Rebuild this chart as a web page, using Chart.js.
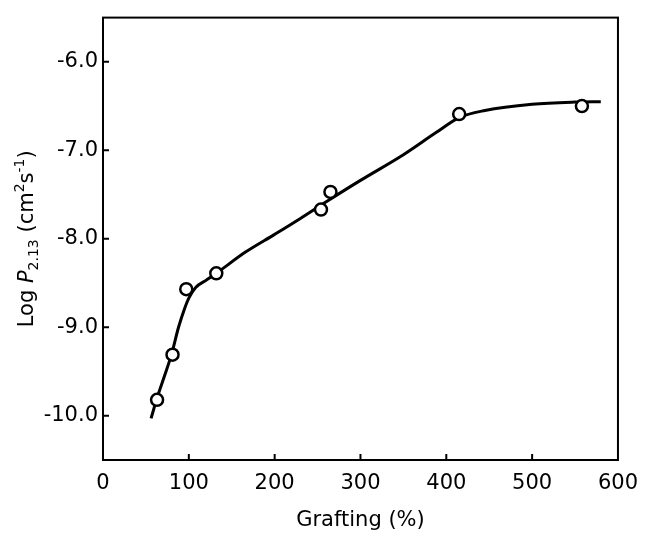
<!DOCTYPE html>
<html>
<head>
<meta charset="utf-8">
<title>Log P vs Grafting</title>
<script src="https://cdn.jsdelivr.net/npm/chart.js@4.4.0/dist/chart.umd.min.js"></script>
<style>
  html, body { margin: 0; padding: 0; background: #fff; }
</style>
</head>
<body>
<canvas id="grafting" width="649" height="538"></canvas>
<script>
// measured points
var graftX = [63, 81, 97, 132, 254, 265, 415, 558];
var logP = [-9.82, -9.31, -8.57, -8.39, -7.67, -7.47, -6.59, -6.50];

// hand-drawn trend curve through the points
var curveX = [56, 63, 72, 80, 88, 95, 100, 108, 120, 132, 166, 200, 230, 262, 300, 350, 388, 415, 445, 500, 550, 580];
var curveY = [-10.03, -9.80, -9.54, -9.30, -9.00, -8.79, -8.67, -8.55, -8.47, -8.39, -8.15, -7.95, -7.77, -7.57, -7.34, -7.05, -6.80, -6.63, -6.55, -6.48, -6.455, -6.45];

var ticksX = [0, 100, 200, 300, 400, 500, 600];
var ticksY = [-10, -9, -8, -7, -6];

var FONT = 'DejaVu Sans';

function toXY(xs, ys) {
    return xs.map(function (x, i) { return { x: x, y: ys[i] }; });
}

// box frame, inward tick marks and the rotated y title with sub/superscripts
var frame = {
    id: 'frame',
    afterDraw: function (chart) {
        var ctx = chart.ctx, a = chart.chartArea;
        var sx = chart.scales.x, sy = chart.scales.y;
        ctx.save();
        ctx.strokeStyle = '#000';
        ctx.lineWidth = 2;
        ctx.strokeRect(a.left, a.top, a.right - a.left, a.bottom - a.top);
        ctx.beginPath();
        ticksX.slice(1, -1).forEach(function (v) {
            var p = sx.getPixelForValue(v);
            ctx.moveTo(p, a.bottom);
            ctx.lineTo(p, a.bottom - 6);
        });
        ticksY.forEach(function (v) {
            var p = sy.getPixelForValue(v);
            ctx.moveTo(a.left, p);
            ctx.lineTo(a.left + 6, p);
        });
        ctx.stroke();

        var runs = [
            { t: 'Log ', f: '21px ' + FONT, dy: 0 },
            { t: 'P', f: 'italic 21px ' + FONT, dy: 0 },
            { t: '2.13', f: '14px ' + FONT, dy: 5 },
            { t: ' (cm', f: '21px ' + FONT, dy: 0 },
            { t: '2', f: '14px ' + FONT, dy: -9 },
            { t: 's', f: '21px ' + FONT, dy: 0 },
            { t: '-1', f: '14px ' + FONT, dy: -9 },
            { t: ')', f: '21px ' + FONT, dy: 0 }
        ];
        var total = 0;
        runs.forEach(function (r) { ctx.font = r.f; r.w = ctx.measureText(r.t).width; total += r.w; });
        ctx.translate(33, (a.top + a.bottom) / 2);
        ctx.rotate(-Math.PI / 2);
        ctx.fillStyle = '#000';
        ctx.textBaseline = 'alphabetic';
        ctx.textAlign = 'left';
        var x = -total / 2;
        runs.forEach(function (r) {
            ctx.font = r.f;
            ctx.fillText(r.t, x, r.dy);
            x += r.w;
        });
        ctx.restore();
    }
};

var chart = new Chart(document.getElementById('grafting'), {
    type: 'scatter',
    data: {
        datasets: [{
            data: toXY(graftX, logP),
            pointRadius: 6,
            pointBorderWidth: 2.5,
            pointBorderColor: '#000',
            pointBackgroundColor: '#fff',
            showLine: false,
            order: 0
        }, {
            data: toXY(curveX, curveY),
            showLine: true,
            pointRadius: 0,
            borderColor: '#000',
            borderWidth: 3,
            cubicInterpolationMode: 'monotone',
            fill: false,
            order: 1
        }]
    },
    options: {
        responsive: false,
        animation: false,
        layout: { padding: { top: 16, right: 24, left: 0, bottom: 0 } },
        plugins: {
            legend: { display: false },
            tooltip: { enabled: false }
        },
        scales: {
            x: {
                type: 'linear',
                min: 0,
                max: 600,
                grid: { display: false, drawTicks: false },
                border: { display: false },
                afterBuildTicks: function (scale) {
                    scale.ticks = ticksX.map(function (v) { return { value: v }; });
                },
                afterFit: function (scale) { scale.height = 78; },
                ticks: {
                    color: '#000',
                    padding: 11,
                    maxRotation: 0,
                    autoSkip: false,
                    font: { family: FONT, size: 21 }
                },
                title: {
                    display: true,
                    text: 'Grafting (%)',
                    color: '#000',
                    padding: { top: 0, bottom: 5 },
                    font: { family: FONT, size: 21 }
                }
            },
            y: {
                type: 'linear',
                min: -10.5,
                max: -5.5,
                grid: { display: false, drawTicks: false },
                border: { display: false },
                afterBuildTicks: function (scale) {
                    scale.ticks = ticksY.map(function (v) { return { value: v }; });
                },
                afterFit: function (scale) { scale.width = 103; },
                ticks: {
                    color: '#000',
                    padding: 5,
                    autoSkip: false,
                    font: { family: FONT, size: 21 },
                    callback: function (v) { return v.toFixed(1); }
                }
            }
        }
    },
    plugins: [frame]
});
</script>
</body>
</html>
